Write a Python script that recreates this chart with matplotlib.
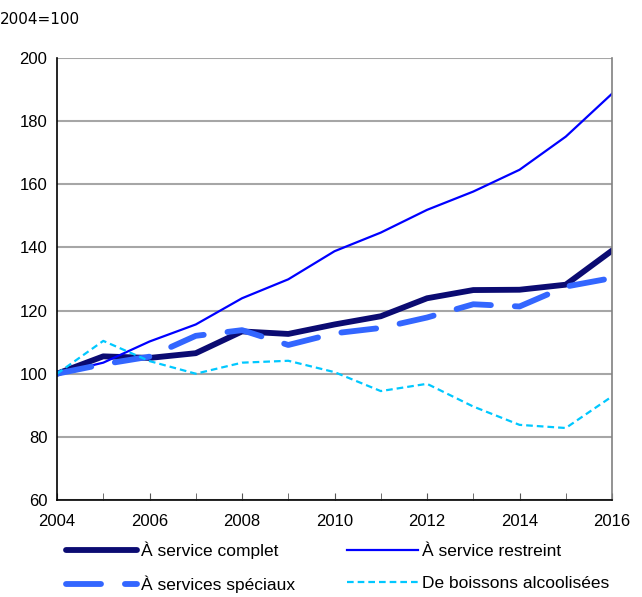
import numpy as np
import matplotlib
matplotlib.use("Agg")
import matplotlib.pyplot as plt
from matplotlib.ticker import MultipleLocator

# indice 2004=100
annees = [2004, 2005, 2006, 2007, 2008, 2009, 2010, 2011, 2012, 2013, 2014, 2015, 2016]
complet = [100, 105.5, 105.0, 106.5, 113.4, 112.6, 115.6, 118.2, 123.9, 126.5, 126.6, 128.2, 139.0]
restreint = [100, 103.5, 110.2, 115.6, 123.9, 129.9, 138.8, 144.7, 151.9, 157.7, 164.6, 175.1, 188.7]
speciaux = [100, 103.0, 105.4, 112.0, 113.8, 109.1, 112.8, 114.5, 117.8, 122.0, 121.3, 127.6, 130.3]
alcool = [100, 110.4, 104.0, 100.0, 103.5, 104.1, 100.5, 94.5, 96.8, 89.6, 83.8, 82.8, 92.8]

plt.rcParams['font.family'] = ['Liberation Sans', 'DejaVu Sans']

fig = plt.figure(figsize=(6.42, 5.97), dpi=100)
ax = fig.add_axes([0.0888, 0.1625, 0.8645, 0.7403])

l1, = ax.plot(annees, complet, color='#0b0b72', lw=4.2, solid_capstyle='round',
              label='À service complet')
l2, = ax.plot(annees, restreint, color='#0000ff', lw=1.6, label='À service restreint')
l3, = ax.plot(annees, speciaux, color='#3366ff', lw=4.2, dashes=(6, 4.1),
              dash_capstyle='round', label='À services spéciaux')
l4, = ax.plot(annees, alcool, color='#00c8ff', lw=1.6, dashes=(3, 1.8),
              label='De boissons alcoolisées')

ax.set_xlim(2004, 2016)
ax.set_ylim(60, 200)
ax.set_xticks(range(2004, 2017, 2))
ax.xaxis.set_minor_locator(MultipleLocator(1))
ax.set_yticks(range(60, 201, 20))
ax.yaxis.grid(True, color='#a6a6a6', lw=1.5)
ax.set_axisbelow(True)
ax.tick_params(axis='y', length=0, labelsize=12, pad=7)
ax.tick_params(axis='x', which='both', direction='in', length=5, labelsize=12,
               pad=10, color='#555555')

ax.spines['top'].set_visible(False)
ax.spines['right'].set_color('#808080')
ax.spines['right'].set_linewidth(1.2)
ax.spines['left'].set_linewidth(1.2)
ax.spines['bottom'].set_linewidth(1.2)

fig.text(0.0, 0.968, '2004=100', fontsize=11, family='DejaVu Sans', va='center')

fig.legend(handles=[l1, l3, l2, l4], ncol=2, loc='lower left',
           bbox_to_anchor=(0.103, 0.006), frameon=False, fontsize=12.5,
           borderpad=0, borderaxespad=0,
           handlelength=4.1, handletextpad=0.2, columnspacing=3.0,
           labelspacing=0.95)

fig.savefig('out.png', dpi=100)
